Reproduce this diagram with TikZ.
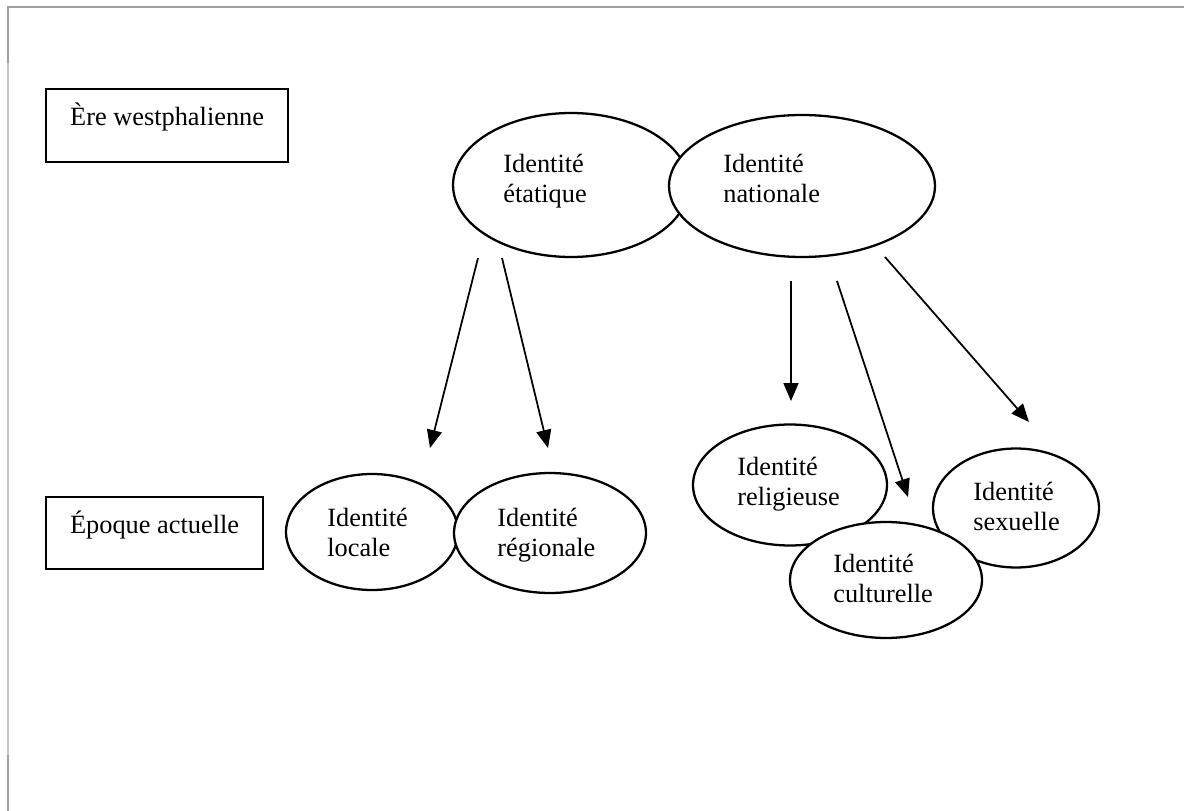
\documentclass[tikz,border=0pt]{standalone}
\usepackage{fontspec}
\setmainfont{Liberation Serif}
\usetikzlibrary{shapes.geometric,arrows.meta}

\newcommand{\fsz}{\fontsize{15}{17}\selectfont}
\tikzset{
  ell/.style={draw, ellipse, fill=white, line width=1.3pt, inner sep=0pt},
  box/.style={draw, rectangle, line width=1.3pt, inner sep=0pt, anchor=base west, font=\fsz},
  txt/.style={align=left, anchor=base west, inner sep=0pt, font=\fsz},
  fleche/.style={line width=1pt, -{Triangle[length=0.36cm, width=0.3cm]}}
}

\begin{document}
\begin{tikzpicture}[x=0.02cm, y=-0.02cm]
    \useasboundingbox (0,0) rectangle (1184,811);
    % page border
    \draw[gray!45, line width=0.04cm] (8,811) -- (8,7);
    \draw[gray!75, line width=0.04cm] (8,63) -- (8,7) -- (1184,7);
    \draw[gray!75, line width=0.04cm] (8,811) -- (8,755);

    % draw period boxes
    \node[box, text height=0.74cm, text depth=0.72cm, minimum width=4.84cm] (ere) at (45,126) {Ère westphalienne};
    \node[box, text height=0.72cm, text depth=0.72cm, minimum width=4.34cm] (epoque) at (45,533) {Époque actuelle};

    % draw top identities (base = last line)
    \node[ell, minimum width=4.72cm, minimum height=2.88cm] (etat) at (571,185) {};
    \node[txt] (etat-t) at (503,202) {Identité\\étatique};
    \node[ell, minimum width=5.32cm, minimum height=2.84cm] (nat) at (802,186) {};
    \node[txt] (nat-t) at (723,202) {Identité\\nationale};

    % draw current identities
    \node[ell, minimum width=3.44cm, minimum height=2.32cm] (loc) at (372,532) {};
    \node[txt] (loc-t) at (327,556) {Identité\\locale};
    \node[ell, minimum width=3.84cm, minimum height=2.40cm] (reg) at (550,533) {};
    \node[txt] (reg-t) at (497,556) {Identité\\régionale};
    \node[ell, minimum width=3.88cm, minimum height=2.42cm] (rel) at (790,485) {};
    \node[txt] (rel-t) at (737,505) {Identité\\religieuse};
    \node[ell, minimum width=3.32cm, minimum height=2.38cm] (sexe) at (1016,508) {};
    \node[txt] (sexe-t) at (973,530) {Identité\\sexuelle};
    \node[ell, minimum width=3.84cm, minimum height=2.32cm] (cult) at (886,580) {};
    \node[txt] (cult-t) at (833,602) {Identité\\culturelle};

    % draw arrows
    \foreach \n/\x/\y in {d1/478/258, f1/430/448, d2/502/258, f2/548/448,
        d3/791/281, f3/791/401, d4/837/281, f4/908/497, d5/885/257, f5/1029/422}
        \coordinate (\n) at (\x,\y);
    \foreach \i in {1,...,5}
        \draw[fleche] (d\i) -- (f\i);
\end{tikzpicture}
\end{document}
